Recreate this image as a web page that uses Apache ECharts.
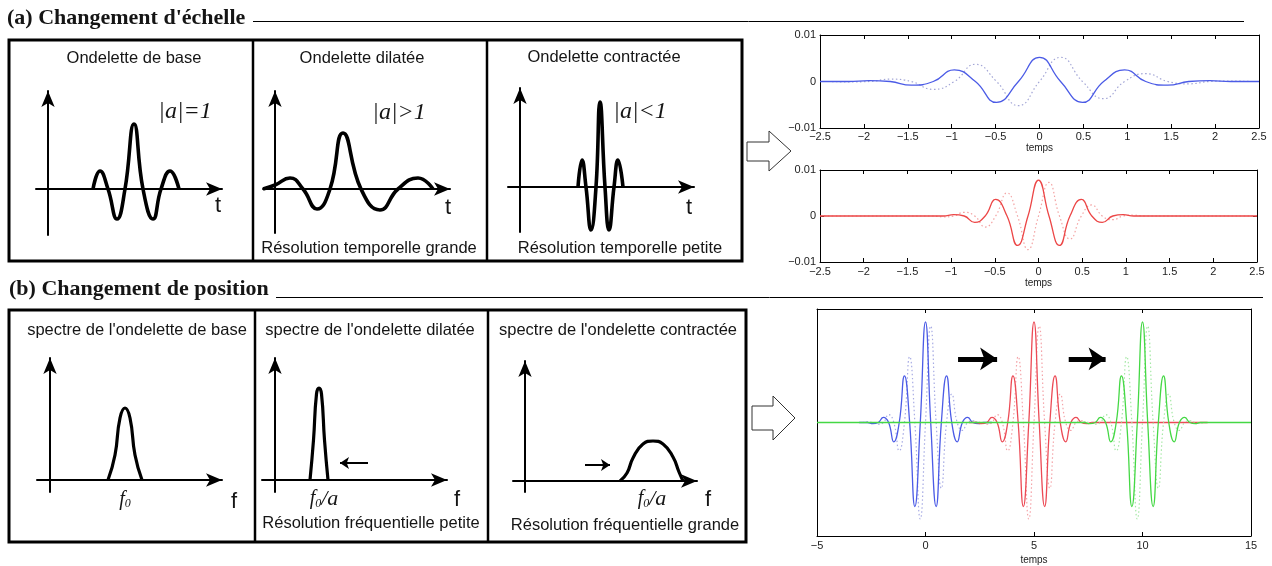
<!DOCTYPE html>
<html><head><meta charset="utf-8">
<script src="https://cdn.jsdelivr.net/npm/echarts@6/dist/echarts.min.js"></script>
<style>html,body{margin:0;padding:0;background:#fff}#c{width:1272px;height:566px}</style>
</head><body><div id="c"></div>
<script>
// ================= DATA =================
// (a) hand-drawn wavelets  [t, amplitude]  (arbitrary sketch units)
const baseWavelet       = [[4.5,0],[5.2,1.8],[6.0,0],[6.9,-3.0],[7.7,0],[8.6,6.5],[9.5,0],[10.5,-3.0],[11.3,0],[12.2,1.8],[13.1,0]];
const dilatedWavelet    = [[-1.2,0],[0,0.4],[1.5,1.1],[2.8,0],[4.2,-2.0],[5.5,0],[6.8,5.6],[8.6,0],[10.5,-2.1],[12.3,0],[14.3,1.1],[15.8,0]];
const contractedWavelet = [[5.8,0],[6.2,2.7],[6.6,0],[7.1,-4.3],[7.6,0],[8.0,8.5],[8.5,0],[8.9,-4.3],[9.4,0],[9.8,2.7],[10.3,0]];
// (b) hand-drawn spectra  [f, magnitude]
const baseSpectrum       = [[5.8,0],[6.5,2.5],[7.0,6.2],[7.5,7.2],[8.0,6.2],[8.5,2.5],[9.2,0]];
const dilatedSpectrum    = [[3.5,0],[3.85,4.0],[4.15,8.6],[4.4,9.2],[4.65,8.6],[4.95,4.0],[5.3,0]];
const contractedSpectrum = [[9.5,0],[10.2,0.8],[10.8,2.3],[11.8,3.7],[12.8,4.0],[13.8,3.7],[14.8,2.4],[15.4,0.9],[15.8,0]];
// annotation arrows in the spectra sketches  [[from],[to]]
const dilatedArrow    = [[9.3,1.7],[6.5,1.7]];
const contractedArrow = [[6.0,1.6],[8.5,1.6]];

// plot a=1
const t1  = [-2.5,-2.43,-2.18,-1.94,-1.70,-1.46,-1.21,-0.97,-0.73,-0.49,-0.24,0,0.24,0.49,0.73,0.97,1.21,1.46,1.70,1.94,2.18,2.43,2.5];
const re1 = [0,0,0,0.0002,0,-0.0008,0,0.0025,0,-0.0045,0,0.0052,0,-0.0045,0,0.0025,0,-0.0008,0,0.0002,0,0,0];
const im1 = [0,0,-0.0001,0,0.0005,0,-0.0017,0,0.0037,0,-0.0052,0,0.0052,0,-0.0037,0,0.0017,0,-0.0005,0,0.0001,0,0];
// plot a=1/2
const t2  = [-2.5,-1.5,-1.21,-1.09,-0.97,-0.85,-0.73,-0.61,-0.49,-0.36,-0.24,-0.12,0,0.12,0.24,0.36,0.49,0.61,0.73,0.85,0.97,1.09,1.21,1.5,2.5];
const re2 = [0,0,0,0,0.0003,0,-0.0014,0,0.0036,0,-0.0064,0,0.0078,0,-0.0064,0,0.0036,0,-0.0014,0,0.0003,0,0,0,0];
const im2 = [0,0,0,-0.0002,0,0.0008,0,-0.0024,0,0.005,0,-0.0073,0,0.0073,0,-0.005,0,0.0024,0,-0.0008,0,0.0002,0,0,0];
// plot (b): one wavelet shape, translated
const bigT  = [-2.91,-2.67,-2.43,-2.18,-1.94,-1.70,-1.46,-1.21,-0.97,-0.73,-0.49,-0.24,0,0.24,0.49,0.73,0.97,1.21,1.46,1.70,1.94,2.18,2.43,2.67,2.91];
const bigRe = [0,0,-0.01,0,0.045,0,-0.17,0,0.41,0,-0.74,0,0.886,0,-0.74,0,0.41,0,-0.17,0,0.045,0,-0.01,0,0];
const bigIm = [0,0.005,0,-0.015,0,0.07,0,-0.25,0,0.58,0,-0.85,0,0.85,0,-0.58,0,0.25,0,-0.07,0,0.015,0,-0.005,0];
const shifts    = [0, 5, 10];
const spanStart = [-3.06, 2.0, -5];
const spanEnd   = [3.06, 13, 15];
const shiftArrows = [[[1.5,0.56],[3.3,0.56]], [[6.6,0.56],[8.3,0.56]]];

// tick labels
const ticksSmallX = { min:-2.5, max:2.5, interval:0.5 };
const ticksSmallY = { min:-0.01, max:0.01, interval:0.01 };
const ticksBigX   = { min:-5, max:15, interval:5 };

// ================= LAYOUT / STYLE =================
const SANS = '"Liberation Sans", Arial, sans-serif';
const SERIF = '"Liberation Serif", "Times New Roman", serif';
const U = 10; // px per sketch unit
const ARW = 16; // arrow length
const sketchBoxes = [
  {L:36,  tipX:230, tipY:83,  B:235, ox:48,  oy:189},
  {L:263, tipX:458, tipY:83,  B:233, ox:275, oy:189},
  {L:508, tipX:702, tipY:80,  B:232, ox:520, oy:187},
  {L:37,  tipX:230, tipY:350, B:492, ox:50,  oy:480},
  {L:262, tipX:455, tipY:350, B:492, ox:275, oy:480},
  {L:513, tipX:705, tipY:353, B:492, ox:525, oy:481}
];
const sketchCurves = [baseWavelet, dilatedWavelet, contractedWavelet, baseSpectrum, dilatedSpectrum, contractedSpectrum];
const sketchWidth = [3.6,3.6,3.6,3.2,3.2,3.2];

const grid = [], xAxis = [], yAxis = [], series = [];
sketchBoxes.forEach((b, i) => {
  const right = b.tipX - ARW/2, top = b.tipY + ARW/2;
  grid.push({left:b.L, top:top, width:right-b.L, height:b.B-top});
  const line = {show:true, onZero:true, symbol:['none','arrow'], symbolSize:[10,ARW], lineStyle:{color:'#000', width:2}};
  xAxis.push({gridIndex:i, type:'value', min:-(b.ox-b.L)/U, max:(right-b.ox)/U, axisLine:line,
    axisTick:{show:false}, axisLabel:{show:false}, splitLine:{show:false}});
  yAxis.push({gridIndex:i, type:'value', min:-(b.B-b.oy)/U, max:(b.oy-top)/U, axisLine:line,
    axisTick:{show:false}, axisLabel:{show:false}, splitLine:{show:false}});
  const s = {type:'line', xAxisIndex:i, yAxisIndex:i, data:sketchCurves[i], smooth:0.5,
    showSymbol:false, symbol:'none', silent:true, z:4, lineStyle:{color:'#000', width:sketchWidth[i], join:'round'}};
  const arr = i === 4 ? dilatedArrow : (i === 5 ? contractedArrow : null);
  if (arr) s.markLine = {silent:true, symbol:['none','arrow'], symbolSize:9, label:{show:false},
    lineStyle:{color:'#000', width:2, type:'solid'}, emphasis:{disabled:true},
    data:[[{coord:arr[0]},{coord:arr[1]}]]};
  series.push(s);
});

const fmt = v => String(+v.toFixed(4)).replace('-', '\u2212');
function matlabAxes(gi, xt, yt, showY, labelMargin, nameGap) {
  const line = {show:true, onZero:false, lineStyle:{color:'#000', width:1}};
  const tick = {show:true, inside:true, length:4, lineStyle:{color:'#000', width:1}};
  xAxis.push({gridIndex:gi, type:'value', position:'bottom', min:xt.min, max:xt.max, interval:xt.interval,
    axisLine:line, axisTick:tick, splitLine:{show:false},
    axisLabel:{show:true, formatter:fmt, fontSize:11, fontFamily:SANS, color:'#222', margin:labelMargin,
      showMinLabel:true, showMaxLabel:true, hideOverlap:false},
    name:'temps', nameLocation:'middle', nameGap:nameGap, nameTextStyle:{fontSize:10, fontFamily:SANS, color:'#222'}});
  xAxis.push({gridIndex:gi, type:'value', position:'top', min:xt.min, max:xt.max, interval:xt.interval,
    axisLine:line, axisTick:tick, axisLabel:{show:false}, splitLine:{show:false}});
  yAxis.push({gridIndex:gi, type:'value', position:'left', min:yt.min, max:yt.max, interval:yt.interval,
    axisLine:line, axisTick:{...tick, show:showY}, splitLine:{show:false},
    axisLabel:{show:showY, formatter:fmt, fontSize:11, fontFamily:SANS, color:'#222', margin:4}});
  yAxis.push({gridIndex:gi, type:'value', position:'right', min:yt.min, max:yt.max, interval:yt.interval,
    axisLine:line, axisTick:{...tick, show:showY}, axisLabel:{show:false}, splitLine:{show:false}});
}
grid.push({left:820, top:35,  width:439, height:93});
grid.push({left:820, top:170, width:437, height:92});
grid.push({left:817, top:309, width:434, height:228});
matlabAxes(6, ticksSmallX, ticksSmallY, true, 3, 14);
matlabAxes(7, ticksSmallX, ticksSmallY, true, 4, 15);
matlabAxes(8, ticksBigX, {min:-1, max:1, interval:1}, false, 4, 19);

const zip = (t, v, dx=0) => t.map((x, i) => [x + dx, v[i]]);
function curve(ax, data, color, width, type, z) {
  return {type:'line', xAxisIndex:ax, yAxisIndex:ax, data, smooth:0.5, showSymbol:false, symbol:'none',
    silent:true, z, lineStyle:{color, width, type}};
}
// plot a=1
series.push(curve(6, zip(t1, im1), '#a3a6d6', 1.2, [1.5,2.5], 3));
series.push(curve(6, zip(t1, re1), '#4b5be6', 1.3, 'solid', 4));
// plot a=1/2
series.push(curve(8, zip(t2, im2), '#f3a2a2', 1.2, [1.5,2.5], 3));
series.push(curve(8, zip(t2, re2), '#ec4646', 1.3, 'solid', 4));
// plot (b)
const bigSolid  = ['#4b5be6', '#ec4a55', '#44d844'];
const bigDotted = ['#a7abe4', '#f4a3a8', '#a5e8a5'];
shifts.forEach((dx, k) => {
  const solid = [[spanStart[k],0], ...zip(bigT, bigRe, dx), [spanEnd[k],0]];
  const dotted = zip(bigT, bigIm, dx);
  series.push(curve(10, dotted, bigDotted[k], 1.2, [1.5,2.5], 3 + k));
  const s = curve(10, solid, bigSolid[k], 1.3, 'solid', 4 + k);
  if (k === 0) s.markLine = {silent:true, symbol:['none','arrow'], symbolSize:17, label:{show:false},
    lineStyle:{color:'#000', width:5, type:'solid'}, emphasis:{disabled:true},
    data: shiftArrows.map(a => [{coord:a[0]},{coord:a[1]}])};
  series.push(s);
});

// ---------- graphic annotations ----------
function txt(x, y, text, font, extra) {
  return {type:'text', x, y, silent:true, z:10, style:Object.assign({text, font, fill:'#151515',
    align:'center', verticalAlign:'middle', textAlign:'center', textVerticalAlign:'middle'}, extra || {})};
}
function ln(x1, y1, x2, y2, w) {
  return {type:'line', silent:true, z:10, shape:{x1, y1, x2, y2}, style:{stroke:'#000', lineWidth:w}};
}
const P15 = '16.5px ' + SANS, P14 = '16.5px ' + SANS, BIG = '22px ' + SANS;
const ITAL = 'italic 24px ' + SERIF;
const f0rich = {
  f:{font:'italic 20px ' + SERIF, fill:'#151515'},
  s:{font:'italic 12px ' + SERIF, fill:'#151515', verticalAlign:'bottom'},
  a:{font:'italic 22px ' + SERIF, fill:'#151515'}
};
const graphic = [
  txt(7, 18, "(a) Changement d'\u00e9chelle", 'bold 22px ' + SERIF, {align:'left', textAlign:'left'}),
  ln(253, 21.5, 1244, 21.5, 1),
  txt(9, 289, '(b) Changement de position', 'bold 22px ' + SERIF, {align:'left', textAlign:'left'}),
  ln(276, 297.5, 1263, 297.5, 1),
  {type:'rect', silent:true, z:10, shape:{x:9, y:40, width:733, height:221}, style:{fill:'none', stroke:'#000', lineWidth:3}},
  ln(253, 40, 253, 261, 2.5), ln(487, 40, 487, 261, 2.5),
  {type:'rect', silent:true, z:10, shape:{x:9, y:310, width:737, height:232}, style:{fill:'none', stroke:'#000', lineWidth:3}},
  ln(255, 310, 255, 542, 2.5), ln(488, 310, 488, 542, 2.5),
  // hollow arrows
  {type:'polygon', silent:true, z:10, shape:{points:[[747,142],[769,142],[769,131],[791,151],[769,171],[769,161],[747,161]]},
    style:{fill:'#fff', stroke:'#333', lineWidth:1}},
  {type:'polygon', silent:true, z:10, shape:{points:[[752,406],[773,406],[773,396],[795,418],[773,440],[773,430],[752,430]]},
    style:{fill:'#fff', stroke:'#333', lineWidth:1}},
  // panel (a) texts
  txt(134, 58, 'Ondelette de base', P15),
  txt(362, 58, 'Ondelette dilat\u00e9e', P15),
  txt(604, 57, 'Ondelette contract\u00e9e', P15),
  txt(185, 112, '|a|=1', ITAL),
  txt(399, 113, '|a|>1', ITAL),
  txt(640, 112, '|a|<1', ITAL),
  txt(218, 206, 't', BIG), txt(448, 208, 't', BIG), txt(689, 208, 't', BIG),
  txt(369, 248, 'R\u00e9solution temporelle grande', P15),
  txt(620, 248, 'R\u00e9solution temporelle petite', P15),
  // panel (b) texts
  txt(137, 330, "spectre de l'ondelette de base", P14),
  txt(370, 330, "spectre de l'ondelette dilat\u00e9e", P14),
  txt(618, 330, "spectre de l'ondelette contract\u00e9e", P14),
  txt(234, 502, 'f', BIG), txt(457, 500, 'f', BIG), txt(708, 500, 'f', BIG),
  {type:'text', x:125, y:500, silent:true, z:10, style:{text:'{f|f}{s|0}', rich:f0rich, align:'center', verticalAlign:'middle', textAlign:'center', textVerticalAlign:'middle'}},
  {type:'text', x:324, y:499, silent:true, z:10, style:{text:'{f|f}{s|0}{a|/a}', rich:f0rich, align:'center', verticalAlign:'middle', textAlign:'center', textVerticalAlign:'middle'}},
  {type:'text', x:652, y:499, silent:true, z:10, style:{text:'{f|f}{s|0}{a|/a}', rich:f0rich, align:'center', verticalAlign:'middle', textAlign:'center', textVerticalAlign:'middle'}},
  txt(371, 523, 'R\u00e9solution fr\u00e9quentielle petite', P14),
  txt(625, 525, 'R\u00e9solution fr\u00e9quentielle grande', P14)
];

const chart = echarts.init(document.getElementById('c'), null, {renderer:'canvas', width:1272, height:566});
chart.setOption({animation:false, backgroundColor:'#fff', grid, xAxis, yAxis, series, graphic});
</script></body></html>
